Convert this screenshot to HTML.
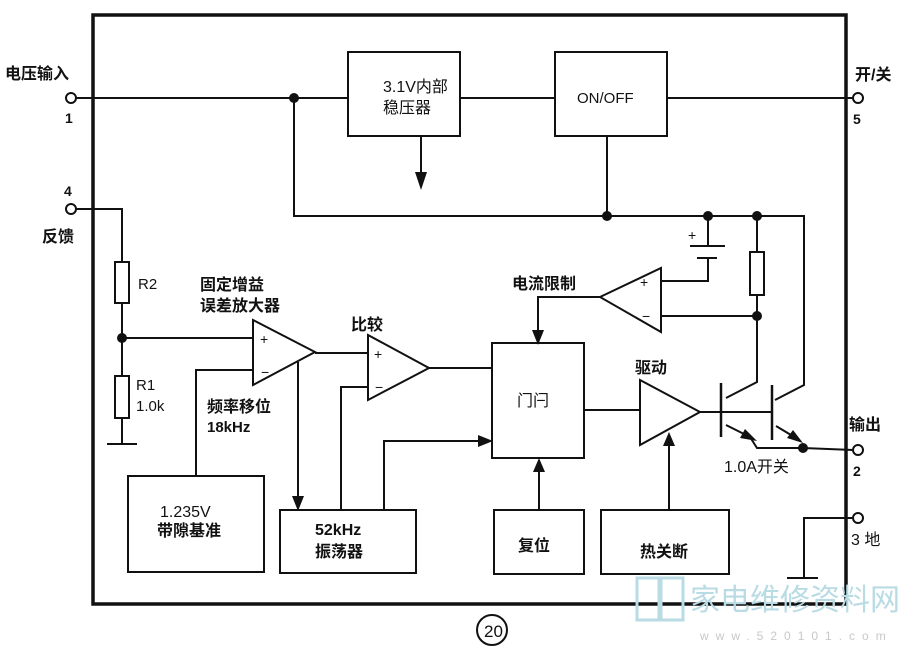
<!DOCTYPE html>
<html><head><meta charset="utf-8"><style>
html,body{margin:0;padding:0;background:#fff;width:913px;height:651px;overflow:hidden}
text{font-family:"Liberation Sans","Noto Sans CJK SC",sans-serif;fill:#111}
</style></head><body>
<svg width="913" height="651" viewBox="0 0 913 651" xmlns="http://www.w3.org/2000/svg">
<g fill="none" stroke="#111" stroke-width="2">
<rect x="93" y="15" width="753" height="589" stroke-width="3.5"/>
<line x1="76" y1="98" x2="348" y2="98"/>
<line x1="460" y1="98" x2="555" y2="98"/>
<line x1="667" y1="98" x2="853" y2="98"/>
<rect x="348" y="52" width="112" height="84"/>
<rect x="555" y="52" width="112" height="84"/>
<line x1="421" y1="136" x2="421" y2="175"/>
<polyline points="294,98 294,216 804,216 804,385 775,400"/>
<line x1="607" y1="136" x2="607" y2="216"/>
<polyline points="708,216 708,246"/>
<line x1="690" y1="246" x2="725" y2="246"/>
<line x1="697" y1="258" x2="717" y2="258"/>
<polyline points="708,258 708,281 661,281"/>
<line x1="757" y1="216" x2="757" y2="252"/>
<rect x="750" y="252" width="14" height="43"/>
<polyline points="757,295 757,382 726,398"/>
<line x1="661" y1="316" x2="757" y2="316"/>
<polygon points="600,297 661,268 661,332"/>
<polyline points="600,297 538,297 538,333"/>
<rect x="492" y="343" width="92" height="115"/>
<line x1="584" y1="410" x2="640" y2="410"/>
<polygon points="640,380 700,412 640,445"/>
<line x1="700" y1="412" x2="772" y2="412"/>
<line x1="721" y1="383" x2="721" y2="437" stroke-width="2.5"/>
<line x1="772" y1="385" x2="772" y2="440" stroke-width="2.5"/>
<polyline points="726,425 750,437 757,448 803,448 853,450"/>
<line x1="776" y1="426" x2="796" y2="438"/>
<polyline points="76,209 122,209 122,262"/>
<rect x="115" y="262" width="14" height="41"/>
<line x1="122" y1="303" x2="122" y2="376"/>
<rect x="115" y="376" width="14" height="42"/>
<line x1="122" y1="418" x2="122" y2="444"/>
<line x1="107" y1="444" x2="137" y2="444"/>
<line x1="122" y1="338" x2="253" y2="338"/>
<polygon points="253,320 315,352 253,385"/>
<polyline points="253,370 196,370 196,476"/>
<line x1="315" y1="353" x2="368" y2="353"/>
<line x1="298" y1="362" x2="298" y2="498"/>
<polygon points="368,335 429,368 368,400"/>
<polyline points="368,387 341,387 341,510"/>
<line x1="429" y1="368" x2="492" y2="368"/>
<polyline points="384,510 384,441 480,441"/>
<rect x="128" y="476" width="136" height="96"/>
<rect x="280" y="510" width="136" height="63"/>
<rect x="494" y="510" width="90" height="64"/>
<rect x="601" y="510" width="128" height="64"/>
<line x1="539" y1="510" x2="539" y2="470"/>
<line x1="669" y1="510" x2="669" y2="444"/>
<polyline points="853,518 804,518 804,578"/>
<line x1="787" y1="578" x2="818" y2="578"/>
</g>
<g fill="#fff" stroke="#111" stroke-width="2">
<circle cx="71" cy="98" r="5"/><circle cx="71" cy="209" r="5"/>
<circle cx="858" cy="98" r="5"/><circle cx="858" cy="450" r="5"/><circle cx="858" cy="518" r="5"/>
<circle cx="492" cy="630" r="15"/>
</g>
<g fill="#111">
<circle cx="294" cy="98" r="5"/><circle cx="607" cy="216" r="5"/><circle cx="708" cy="216" r="5"/>
<circle cx="757" cy="216" r="5"/><circle cx="757" cy="316" r="5"/><circle cx="122" cy="338" r="5"/>
<circle cx="803" cy="448" r="5"/>
<polygon points="415,172 427,172 421,190"/>
<polygon points="532,330 544,330 538,345"/>
<polygon points="292,496 304,496 298,511"/>
<polygon points="478,435 478,447 493,441"/>
<polygon points="533,472 545,472 539,458"/>
<polygon points="663,446 675,446 669,432"/>
<polygon points="757,441 740,438 745,429"/>
<polygon points="803,443 787,438 793,430"/>
</g>
<g font-size="14">
<text x="260" y="344">+</text><text x="261" y="377">−</text>
<text x="374" y="359">+</text><text x="375" y="392">−</text>
<text x="640" y="287">+</text><text x="642" y="321">−</text>
<text x="688" y="240">+</text>
</g>
<g font-size="16" font-weight="bold">
<text x="5" y="79">电压输入</text>
<text x="65" y="123" font-size="14">1</text>
<text x="64" y="196" font-size="14">4</text>
<text x="42" y="242">反馈</text>
<text x="383" y="92" font-weight="normal">3.1V内部</text>
<text x="383" y="113" font-weight="normal">稳压器</text>
<text x="577" y="103" font-weight="normal" font-size="15">ON/OFF</text>
<text x="855" y="80">开/关</text>
<text x="853" y="124" font-size="14">5</text>
<text x="138" y="289" font-weight="normal" font-size="15">R2</text>
<text x="200" y="290">固定增益</text>
<text x="200" y="311">误差放大器</text>
<text x="351" y="330">比较</text>
<text x="512" y="289">电流限制</text>
<text x="635" y="373">驱动</text>
<text x="136" y="390" font-weight="normal" font-size="15">R1</text>
<text x="136" y="411" font-weight="normal" font-size="15">1.0k</text>
<text x="207" y="412">频率移位</text>
<text x="207" y="432" font-size="15">18kHz</text>
<text x="517" y="406" font-weight="normal">门闩</text>
<text x="724" y="472" font-weight="normal">1.0A开关</text>
<text x="849" y="430">输出</text>
<text x="853" y="476" font-size="14">2</text>
<text x="851" y="545" font-weight="normal">3 地</text>
<text x="160" y="517" font-weight="normal">1.235V</text>
<text x="157" y="536">带隙基准</text>
<text x="315" y="535">52kHz</text>
<text x="315" y="557">振荡器</text>
<text x="518" y="551">复位</text>
<text x="640" y="557">热关断</text>
<text x="484" y="637" font-size="17" font-weight="normal">20</text>
</g>
<g fill="none" stroke="#b8dbe4" stroke-width="3">
<rect x="637" y="578" width="22" height="42"/><rect x="661" y="578" width="22" height="42"/>
</g>
<text x="690" y="610" font-size="30" style="fill:#b8dbe4">家电维修资料网</text>
<text x="700" y="640" font-size="12" letter-spacing="7" style="fill:#c8c8c8">www.520101.com</text>
</svg>
</body></html>
